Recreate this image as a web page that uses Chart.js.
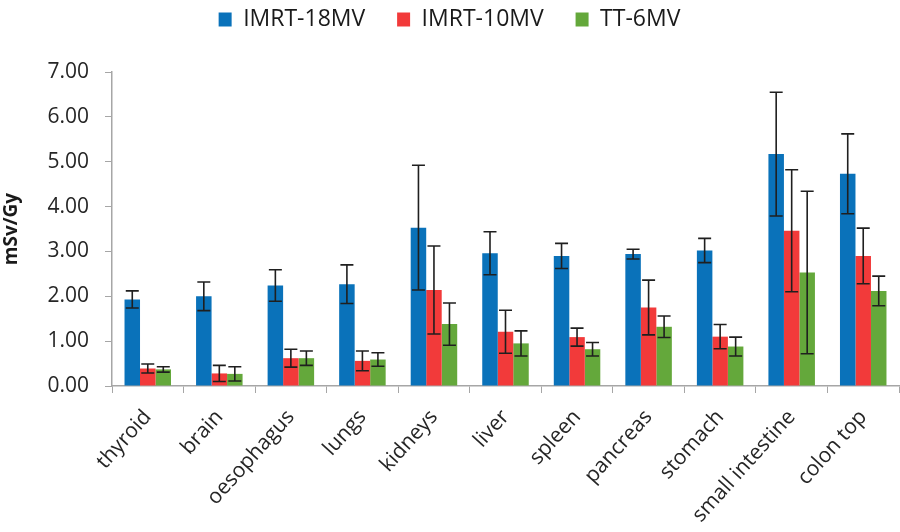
<!DOCTYPE html>
<html>
<head>
<meta charset="utf-8">
<script src="https://cdn.jsdelivr.net/npm/chart.js@4.4.1/dist/chart.umd.min.js"></script>
<style>
  html, body { margin: 0; padding: 0; background: #fff; }
  #wrap { width: 900px; height: 532px; }
</style>
</head>
<body>
<div id="wrap"><canvas id="doseChart" width="900" height="532"></canvas></div>
<script>
// organos y valores (mSv/Gy)
const organos = ['thyroid', 'brain', 'oesophagus', 'lungs', 'kidneys', 'liver', 'spleen', 'pancreas', 'stomach', 'small intestine', 'colon top'];

const imrt18 = [1.93, 2.00, 2.24, 2.27, 3.53, 2.96, 2.90, 2.94, 3.02, 5.17, 4.73];
const imrt18Err = [0.19, 0.32, 0.35, 0.43, 1.39, 0.48, 0.28, 0.11, 0.27, 1.38, 0.89];

const imrt10 = [0.39, 0.28, 0.62, 0.56, 2.14, 1.21, 1.09, 1.75, 1.10, 3.46, 2.90];
const imrt10Err = [0.10, 0.18, 0.20, 0.22, 0.98, 0.48, 0.20, 0.61, 0.27, 1.36, 0.62];

const tt6 = [0.37, 0.27, 0.62, 0.59, 1.38, 0.95, 0.82, 1.32, 0.88, 2.53, 2.12];
const tt6Err = [0.06, 0.16, 0.16, 0.15, 0.47, 0.28, 0.15, 0.24, 0.21, 1.81, 0.33];

const yTicks = [0, 1, 2, 3, 4, 5, 6, 7];

const FUENTE = '"Open Sans", sans-serif';
const GRIS_EJE = '#a6a6a6';

// barras de error dibujadas con las escalas del grafico
const errorBars = {
    id: 'errorBars',
    afterDatasetsDraw(chart) {
        const ctx = chart.ctx;
        const yScale = chart.scales.y;
        chart.data.datasets.forEach((ds, i) => {
            const meta = chart.getDatasetMeta(i);
            ctx.save();
            ctx.strokeStyle = '#1f1f1f';
            ctx.lineWidth = 1.6;
            meta.data.forEach((bar, j) => {
                const v = ds.data[j];
                const e = ds.errores[j];
                const yTop = yScale.getPixelForValue(v + e);
                const yBot = yScale.getPixelForValue(Math.max(v - e, 0));
                const x = bar.x;
                ctx.beginPath();
                ctx.moveTo(x, yTop);
                ctx.lineTo(x, yBot);
                ctx.moveTo(x - 6.5, yTop);
                ctx.lineTo(x + 6.5, yTop);
                ctx.moveTo(x - 6.5, yBot);
                ctx.lineTo(x + 6.5, yBot);
                ctx.stroke();
            });
            ctx.restore();
        });
    }
};

// la leyenda ocupa mas alto para que el area del grafico empiece donde toca
const alturaLeyenda = {
    id: 'alturaLeyenda',
    beforeLayout(chart) {
        const leg = chart.legend;
        if (!leg || leg._fitPatched) return;
        const fitOrig = leg.fit;
        leg.fit = function () {
            fitOrig.call(this);
            this.height = 72;
        };
        leg._fitPatched = true;
    }
};

const ctx = document.getElementById('doseChart').getContext('2d');
new Chart(ctx, {
    type: 'bar',
    data: {
        labels: organos,
        datasets: [
            { label: 'IMRT-18MV', data: imrt18, errores: imrt18Err, backgroundColor: '#0a72ba' },
            { label: 'IMRT-10MV', data: imrt10, errores: imrt10Err, backgroundColor: '#f23a3a' },
            { label: 'TT-6MV', data: tt6, errores: tt6Err, backgroundColor: '#64a83b' }
        ]
    },
    options: {
        responsive: false,
        animation: false,
        layout: { padding: { top: 0, right: 1, left: 0, bottom: 0 } },
        datasets: { bar: { categoryPercentage: 0.65, barPercentage: 1.0 } },
        plugins: {
            legend: {
                position: 'top',
                labels: {
                    color: '#1a1a1a',
                    font: { family: FUENTE, size: 23 },
                    boxWidth: 13,
                    boxHeight: 14,
                    padding: 8,
                    generateLabels: chart => {
                        const items = Chart.defaults.plugins.legend.labels.generateLabels(chart);
                        items.forEach((it, i) => {
                            if (i < items.length - 1) it.text = it.text + '    ';
                        });
                        return items;
                    }
                }
            },
            tooltip: { enabled: false }
        },
        scales: {
            x: {
                grid: { display: true, drawOnChartArea: false, offset: true, color: GRIS_EJE, tickLength: 7 },
                border: { color: GRIS_EJE, width: 1.5 },
                ticks: {
                    color: '#262626',
                    font: { family: FUENTE, size: 21 },
                    maxRotation: 48,
                    minRotation: 48,
                    padding: 12,
                    autoSkip: false
                },
                afterFit: s => { s.height = 146; }
            },
            y: {
                min: 0,
                max: 7,
                afterBuildTicks: s => { s.ticks = yTicks.map(v => ({ value: v })); },
                grid: { display: true, drawOnChartArea: false, color: GRIS_EJE, tickLength: 7 },
                border: { color: GRIS_EJE, width: 1.5 },
                ticks: {
                    color: '#262626',
                    font: { family: FUENTE, size: 21 },
                    padding: 16,
                    callback: v => v.toFixed(2)
                },
                title: {
                    display: true,
                    text: 'mSv/Gy',
                    color: '#1a1a1a',
                    font: { family: FUENTE, size: 19, weight: 'bold' },
                    padding: { top: 0, bottom: 0 }
                },
                afterFit: s => { s.width = 112; }
            }
        }
    },
    plugins: [errorBars, alturaLeyenda]
});
</script>
</body>
</html>
